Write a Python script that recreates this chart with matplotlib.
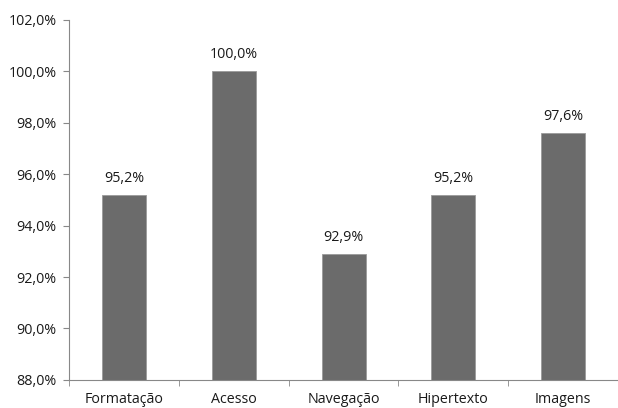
import matplotlib
matplotlib.use("Agg")
import matplotlib.pyplot as plt
from matplotlib.ticker import FuncFormatter, FixedLocator

# Share of items rated per category
categories = ["Formatação", "Acesso", "Navegação", "Hipertexto", "Imagens"]
values = [95.2, 100.0, 92.9, 95.2, 97.6]

plt.rcParams["font.family"] = ["Open Sans", "DejaVu Sans"]

fig = plt.figure(figsize=(6.18, 4.08), dpi=100)
ax = fig.add_axes([0.112, 0.069, 0.888, 0.882])

x = list(range(len(categories)))
ax.bar(x, [v - 88 for v in values], bottom=88, width=0.4,
       color="#6b6b6b", edgecolor="#9a9a9a", linewidth=0.6, zorder=2)

for xi, v in zip(x, values):
    ax.text(xi, v + 0.35, f"{v:.1f}%".replace(".", ","), ha="center", va="bottom",
            fontsize=10.3, color="#1a1a1a")

ax.set_ylim(88, 102)
ax.set_xlim(-0.5, len(categories) - 0.5)
ax.set_yticks(range(88, 103, 2))
ax.yaxis.set_major_formatter(FuncFormatter(lambda v, p: f"{v:.1f}%".replace(".", ",")))

ax.set_xticks(x)
ax.set_xticklabels(categories)
ax.xaxis.set_minor_locator(FixedLocator([i - 0.5 for i in range(len(categories) + 1)]))
ax.tick_params(axis="x", which="major", length=0, pad=9, labelsize=10.3, labelcolor="#1a1a1a")
ax.tick_params(axis="x", which="minor", length=4, color="#888888", direction="out")
ax.tick_params(axis="y", length=4, color="#888888", labelsize=10.3, labelcolor="#1a1a1a", pad=5)

for side in ["top", "right"]:
    ax.spines[side].set_visible(False)
for side in ["left", "bottom"]:
    ax.spines[side].set_color("#888888")
    ax.spines[side].set_linewidth(0.8)

plt.savefig("out.png", dpi=100)
